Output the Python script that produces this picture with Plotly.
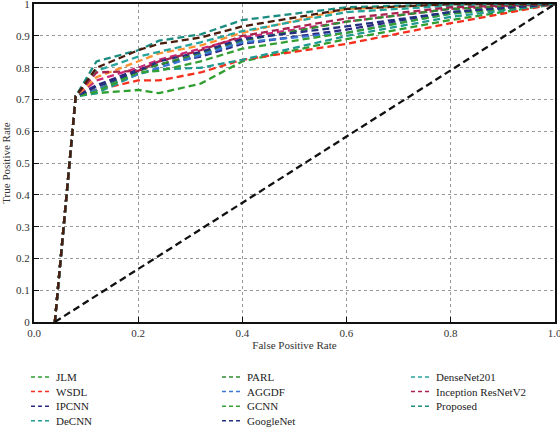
import plotly.graph_objects as go

fpr = [0.04, 0.08, 0.12, 0.2, 0.24, 0.32, 0.4, 0.6, 0.8, 1.0]

series_names = ["JLM", "WSDL", "IPCNN", "DeCNN", "DLCRD",
                "PARL", "AGGDF", "GCNN", "GoogleNet", "ResNet152V2",
                "DenseNet201", "Inception ResNetV2", "Proposed"]

tpr_jlm = [0, 0.71, 0.72, 0.73, 0.72, 0.75, 0.82, 0.89, 0.95, 1.0]
tpr_wsdl = [0, 0.71, 0.73, 0.76, 0.76, 0.785, 0.825, 0.875, 0.94, 1.0]
tpr_ipcnn = [0, 0.71, 0.745, 0.795, 0.81, 0.835, 0.875, 0.92, 0.975, 1.0]
tpr_decnn = [0, 0.71, 0.72, 0.78, 0.795, 0.80, 0.825, 0.90, 0.96, 1.0]
tpr_dlcrd = [0, 0.71, 0.76, 0.80, 0.825, 0.86, 0.895, 0.945, 0.985, 1.0]
tpr_parl = [0, 0.71, 0.73, 0.79, 0.81, 0.845, 0.885, 0.945, 0.985, 1.0]
tpr_aggdf = [0, 0.71, 0.73, 0.78, 0.80, 0.84, 0.88, 0.91, 0.97, 1.0]
tpr_gcnn = [0, 0.71, 0.725, 0.785, 0.79, 0.82, 0.86, 0.91, 0.97, 1.0]
tpr_googlenet = [0, 0.71, 0.74, 0.79, 0.82, 0.85, 0.89, 0.93, 0.975, 1.0]
tpr_resnet152 = [0, 0.71, 0.77, 0.82, 0.845, 0.87, 0.91, 0.985, 1.0, 1.0]
tpr_densenet = [0, 0.71, 0.79, 0.835, 0.85, 0.88, 0.915, 0.975, 0.995, 1.0]
tpr_incres = [0, 0.71, 0.785, 0.79, 0.82, 0.855, 0.90, 0.955, 0.99, 1.0]
tpr_proposed = [0, 0.71, 0.82, 0.855, 0.885, 0.905, 0.95, 0.99, 1.0, 1.0]
tpr_extra = [0, 0.71, 0.80, 0.855, 0.875, 0.895, 0.93, 0.985, 1.0, 1.0]

chance_x = [0.04, 1.0]
chance_y = [0.0, 1.0]

series_values = [tpr_jlm, tpr_wsdl, tpr_ipcnn, tpr_decnn, tpr_dlcrd,
                 tpr_parl, tpr_aggdf, tpr_gcnn, tpr_googlenet, tpr_resnet152,
                 tpr_densenet, tpr_incres, tpr_proposed]

colors = ["#2e9e2e", "#f5301e", "#2c2a80", "#1f9a90", "#cc2a78",
          "#2f8a32", "#3a78d4", "#34a034", "#23307f", "#ff9030",
          "#27a59c", "#a8244e", "#1a8c80"]

x_ticks = [0.0, 0.2, 0.4, 0.6, 0.8, 1.0]
x_tick_labels = ["0.0", "0.2", "0.4", "0.6", "0.8", "1.0"]
y_ticks = [0, 0.1, 0.2, 0.3, 0.4, 0.5, 0.6, 0.7, 0.8, 0.9, 1.0]
y_tick_labels = ["0", "0.1", "0.2", "0.3", "0.4", "0.5", "0.6", "0.7", "0.8", "0.9", "1"]

SERIF = "Liberation Serif"
DASH = "7px,4px"

W, H = 560, 431
ML, MR, MT, MB = 34, 5, 4, 109
PW, PH = W - ML - MR, H - MT - MB

fig = go.Figure()
for name, vals, col in zip(series_names, series_values, colors):
    fig.add_trace(go.Scatter(x=fpr, y=vals, mode="lines", name=name,
                             line=dict(color=col, width=2.3, dash=DASH),
                             showlegend=False))

fig.add_trace(go.Scatter(x=fpr, y=tpr_extra, mode="lines", showlegend=False,
                         line=dict(color="#4a1c0c", width=2.3, dash=DASH)))
fig.add_trace(go.Scatter(x=chance_x, y=chance_y, mode="lines", showlegend=False,
                         line=dict(color="#111111", width=2.3, dash=DASH)))

# legend laid out in three columns below the axes (pixel layout -> paper coords)
col_px = [31, 222, 411]
row0_px, row_step = 377, 14.6
per_col = 5
shapes, annotations = [], []
for i, (name, col) in enumerate(zip(series_names, colors)):
    c, r = divmod(i, per_col)
    xs = col_px[c]
    yc = row0_px + r * row_step
    yp = (H - MB - yc) / PH
    shapes.append(dict(type="line", xref="paper", yref="paper",
                       x0=(xs - ML) / PW, x1=(xs + 19 - ML) / PW, y0=yp, y1=yp,
                       line=dict(color=col, width=1.5, dash="4px,3px")))
    annotations.append(dict(text=name, xref="paper", yref="paper",
                            x=(xs + 23 - ML) / PW, y=yp, xanchor="left", yanchor="middle",
                            showarrow=False, font=dict(family=SERIF, size=11, color="#222")))

fig.update_layout(
    width=W, height=H,
    margin=dict(l=ML, r=MR, t=MT, b=MB),
    paper_bgcolor="white", plot_bgcolor="white",
    font=dict(family=SERIF, size=11, color="#333"),
    showlegend=False,
    shapes=shapes, annotations=annotations,
    xaxis=dict(range=[0, 1.0005], tickvals=x_ticks, ticktext=x_tick_labels,
               showgrid=True, gridcolor="#999", griddash="dot", gridwidth=1,
               showline=True, linecolor="#111", linewidth=2, mirror=True,
               ticks="inside", ticklen=5, tickcolor="#111", zeroline=False,
               ticklabeloverflow="allow", automargin="bottom",
               title=dict(text="False Positive Rate", standoff=3,
                          font=dict(family=SERIF, size=11, color="#333"))),
    yaxis=dict(range=[0, 1.0005], tickvals=y_ticks, ticktext=y_tick_labels,
               showgrid=True, gridcolor="#999", griddash="dot", gridwidth=1,
               showline=True, linecolor="#111", linewidth=2, mirror=True,
               ticks="inside", ticklen=5, tickcolor="#111", zeroline=False,
               ticklabeloverflow="allow", automargin=False,
               title=dict(text="True Positive Rate",
                          font=dict(family=SERIF, size=11, color="#333"))),
)

fig.write_html("out.html",
               config={"displayModeBar": False},
               post_script="document.body.style.margin='0';"
                           "document.documentElement.style.overflow='hidden';"
                           "document.body.style.overflow='hidden';")
